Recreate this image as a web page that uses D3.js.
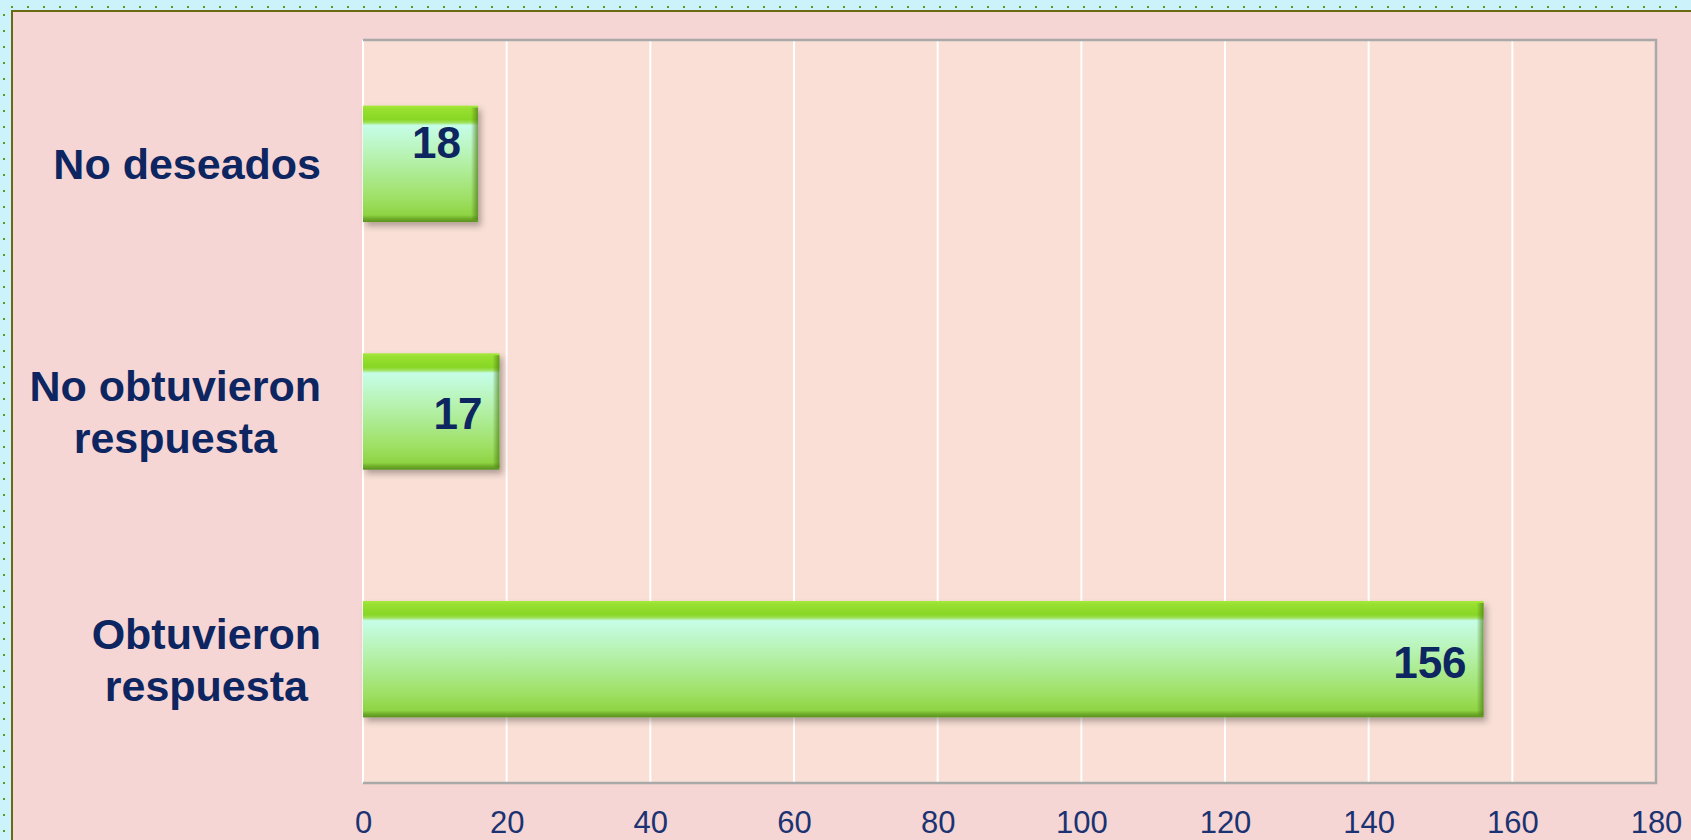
<!DOCTYPE html>
<html>
<head>
<meta charset="utf-8">
<script src="https://cdn.jsdelivr.net/npm/d3@7"></script>
<style>
  html, body { margin: 0; padding: 0; background: #ccf2fb; }
  svg { display: block; }
</style>
</head>
<body>
<div id="chart-wrapper"></div>
<script>
// Chart data
const categories = ["No deseados", "No obtuvieron respuesta", "Obtuvieron respuesta"];
const categoryLines = [["No deseados"], ["No obtuvieron", "respuesta"], ["Obtuvieron", "respuesta"]];
const barValues = [16, 19, 156];
const labelTexts = ["18", "17", "156"];
const tickValues = [0, 20, 40, 60, 80, 100, 120, 140, 160, 180];

const initChart = () => {
  const fullWidth = 1691,
    fullHeight = 840;
  const plot = { left: 363, right: 1656, top: 40, bottom: 783 };

  const svg = d3.select("#chart-wrapper").append("svg")
    .attr("width", fullWidth)
    .attr("height", fullHeight);

  const defs = svg.append("defs");

  // bar fill
  const grad = defs.append("linearGradient")
    .attr("id", "bar-grad")
    .attr("x1", 0).attr("y1", 0).attr("x2", 0).attr("y2", 1);
  [[0, "#a6e83c"], [0.03, "#98e030"], [0.12, "#88d626"], [0.145, "#9fe25a"],
   [0.17, "#c6fde8"], [0.45, "#b6f2ae"], [0.8, "#9ee064"], [0.94, "#8ed443"],
   [0.97, "#6fae2a"], [1, "#5b8f22"]]
    .forEach(s => grad.append("stop").attr("offset", s[0]).attr("stop-color", s[1]));

  const edge = defs.append("linearGradient")
    .attr("id", "edge-grad")
    .attr("x1", 0).attr("y1", 0).attr("x2", 1).attr("y2", 0);
  edge.append("stop").attr("offset", 0).attr("stop-color", "#4f7f18").attr("stop-opacity", 0);
  edge.append("stop").attr("offset", 1).attr("stop-color", "#4f7f18").attr("stop-opacity", 0.75);

  const shadow = defs.append("filter")
    .attr("id", "bar-shadow")
    .attr("x", "-5%").attr("y", "-10%").attr("width", "115%").attr("height", "130%");
  shadow.append("feDropShadow")
    .attr("dx", 3).attr("dy", 4).attr("stdDeviation", 3)
    .attr("flood-color", "#000").attr("flood-opacity", 0.3);

  // dotted outer frame
  const dots = svg.append("g").attr("fill", "#5f9a1c");
  dots.selectAll(".dot-top")
    .data(d3.range(12, fullWidth, 16))
    .enter().append("rect")
    .attr("x", d => d - 1).attr("y", 6).attr("width", 2).attr("height", 2);
  dots.selectAll(".dot-left")
    .data(d3.range(15, fullHeight, 16))
    .enter().append("rect")
    .attr("x", 3).attr("y", d => d - 1).attr("width", 2).attr("height", 2);

  // slide panel
  svg.append("rect")
    .attr("x", 11).attr("y", 10)
    .attr("width", fullWidth).attr("height", fullHeight)
    .attr("fill", "#6b6a12");
  svg.append("rect")
    .attr("x", 13).attr("y", 12)
    .attr("width", fullWidth).attr("height", fullHeight)
    .attr("fill", "#f6d6d4");

  const xScale = d3.scaleLinear()
    .domain([0, 180])
    .range([plot.left, plot.right]);

  const yScale = d3.scaleBand()
    .domain(categories)
    .range([plot.top, plot.bottom])
    .paddingInner(0.53)
    .paddingOuter(0.265);

  // plot area
  svg.append("rect")
    .attr("x", plot.left).attr("y", plot.top)
    .attr("width", plot.right - plot.left).attr("height", plot.bottom - plot.top)
    .attr("fill", "#f9dfd5");

  svg.append("g")
    .selectAll("line")
    .data(tickValues)
    .enter().append("line")
    .attr("x1", d => xScale(d)).attr("x2", d => xScale(d))
    .attr("y1", plot.top).attr("y2", plot.bottom)
    .attr("stroke", "#ffffff")
    .attr("stroke-width", 2);

  svg.append("path")
    .attr("d", `M${plot.left},${plot.top}H${plot.right}V${plot.bottom}H${plot.left}`)
    .attr("fill", "none")
    .attr("stroke", "#a9a9a9")
    .attr("stroke-width", 2.5);

  // bars
  const bars = svg.append("g").selectAll("g")
    .data(categories)
    .enter().append("g");

  bars.append("rect")
    .attr("x", xScale(0))
    .attr("y", d => yScale(d))
    .attr("width", (d, i) => xScale(barValues[i]) - xScale(0))
    .attr("height", yScale.bandwidth())
    .attr("fill", "url(#bar-grad)")
    .attr("filter", "url(#bar-shadow)");

  bars.append("rect")
    .attr("x", (d, i) => xScale(barValues[i]) - 7)
    .attr("y", d => yScale(d) + 2)
    .attr("width", 7)
    .attr("height", yScale.bandwidth() - 4)
    .attr("fill", "url(#edge-grad)");

  // value labels
  const labelDy = [-22, 1, 3];
  bars.append("text")
    .attr("x", (d, i) => xScale(barValues[i]) - 17)
    .attr("y", (d, i) => yScale(d) + yScale.bandwidth() / 2 + 16 + labelDy[i])
    .attr("text-anchor", "end")
    .attr("font-family", "'Liberation Sans', Arial, sans-serif")
    .attr("font-weight", "bold")
    .attr("font-size", 44)
    .attr("fill", "#0d2560")
    .text((d, i) => labelTexts[i]);

  // category labels
  const lineHeight = 52;
  categories.forEach((c, i) => {
    const lines = categoryLines[i];
    const g = svg.append("g");
    const cy = yScale(c) + yScale.bandwidth() / 2;
    const firstBaseline = cy + 15.5 - (lines.length - 1) * lineHeight / 2;
    lines.forEach((t, j) => {
      g.append("text")
        .attr("x", 0)
        .attr("y", firstBaseline + j * lineHeight)
        .attr("text-anchor", "middle")
        .attr("font-family", "'Liberation Sans', Arial, sans-serif")
        .attr("font-weight", "bold")
        .attr("font-size", 43)
        .attr("fill", "#0d2560")
        .text(t);
    });
    const w = g.node().getBBox().width;
    g.attr("transform", `translate(${321 - w / 2},0)`);
  });

  // x axis
  const xAxis = svg.append("g")
    .attr("transform", `translate(0,${plot.bottom})`)
    .call(d3.axisBottom(xScale).tickValues(tickValues).tickSize(0).tickPadding(28));
  xAxis.select(".domain").remove();
  xAxis.selectAll("text")
    .attr("font-family", "'Liberation Sans', Arial, sans-serif")
    .attr("font-size", 31)
    .attr("fill", "#1b3372");
}

window.onload = () => {
  initChart();
}
</script>
</body>
</html>
